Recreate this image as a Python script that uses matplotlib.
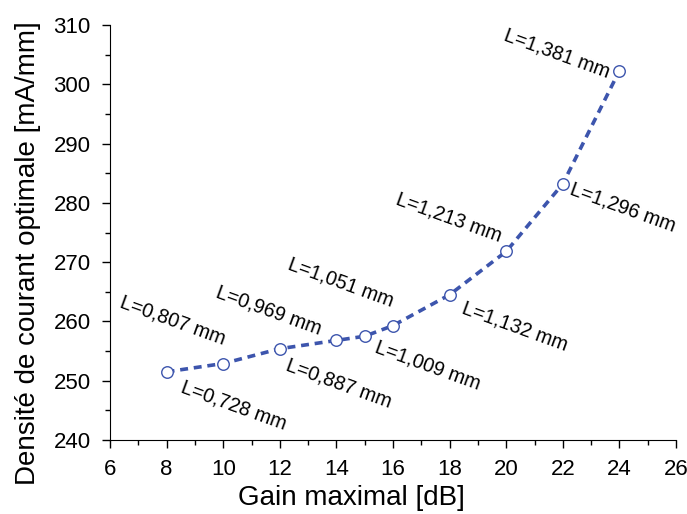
import matplotlib
matplotlib.use("Agg")
import matplotlib.pyplot as plt
from matplotlib.ticker import MultipleLocator

plt.rcParams['font.family'] = ['Liberation Sans', 'DejaVu Sans']

gain = [8, 10, 12, 14, 15, 16, 18, 20, 22, 24]
density = [251.5, 252.9, 255.4, 256.8, 257.5, 259.3, 264.5, 271.8, 283.2, 302.3]
labels = ["L=0,728 mm", "L=0,807 mm", "L=0,887 mm", "L=0,969 mm", "L=1,009 mm",
          "L=1,051 mm", "L=1,132 mm", "L=1,213 mm", "L=1,296 mm", "L=1,381 mm"]

# label layout: (horizontal alignment, offset in pixels dx, dy (up positive))
label_layout = [("left", 13, -20), ("right", 0, 19), ("left", 5, -21),
                ("right", -17, 6), ("left", 9, -15), ("right", -2, 19),
                ("left", 11, -18), ("right", -7, 10), ("left", 6, -10),
                ("right", -12, -7)]

color = "#3D55AD"

fig = plt.figure(figsize=(6.87, 5.14), dpi=100)
ax = fig.add_axes([110/687, 1-440/514, (676-110)/687, (440-25)/514])

ax.plot(gain, density, linestyle=(0, (2.2, 1.6)), color=color, lw=2.6,
        marker='o', markersize=8.3, markerfacecolor='white',
        markeredgecolor=color, markeredgewidth=1.0, zorder=3)

rot = -20
px2pt = 0.72
for x, y, t, (ha, dx, dy) in zip(gain, density, labels, label_layout):
    ax.annotate(t, (x, y), xytext=(dx * px2pt, dy * px2pt), textcoords='offset points',
                ha=ha, va='baseline', rotation=rot, rotation_mode='anchor',
                fontsize=14.3)

ax.set_xlim(6, 26)
ax.set_ylim(240, 310)
ax.xaxis.set_major_locator(MultipleLocator(2))
ax.xaxis.set_minor_locator(MultipleLocator(1))
ax.yaxis.set_major_locator(MultipleLocator(10))
ax.yaxis.set_minor_locator(MultipleLocator(5))
ax.spines['top'].set_visible(False)
ax.spines['right'].set_visible(False)
ax.tick_params(which='major', direction='out', length=6, width=1, labelsize=16)
ax.tick_params(axis='x', which='major', pad=7.5)
ax.tick_params(axis='y', which='major', pad=8)
ax.tick_params(which='minor', direction='out', length=3.5, width=1)
ax.set_xlabel("Gain maximal [dB]", fontsize=20)
ax.set_ylabel("Densité de courant optimale [mA/mm]", fontsize=20)
ax.xaxis.set_label_coords((351 - 110) / 566, -(485 - 440) / 415)
ax.yaxis.set_label_coords((41 - 110) / 566, (440 - 253.5) / 415)

fig.savefig("out.png", dpi=100)
